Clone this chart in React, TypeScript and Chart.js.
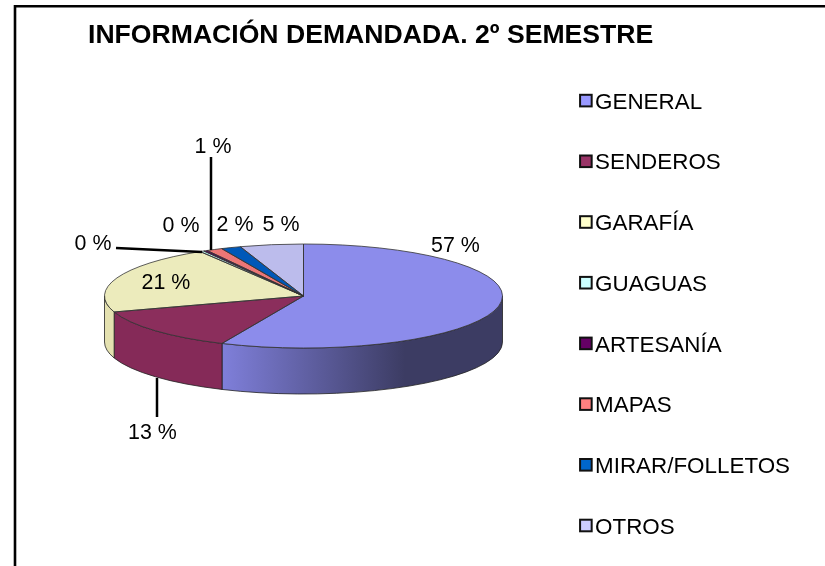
import React, { useEffect, useRef } from "react";
import { Chart, registerables } from "chart.js";

Chart.register(...registerables);

const categories = ["GENERAL", "SENDEROS", "GARAFÍA", "GUAGUAS", "ARTESANÍA", "MAPAS", "MIRAR/FOLLETOS", "OTROS"];
const shares = [56.65, 13.3, 21.25, 0.35, 0.3, 1.3, 1.6, 5.14];
const shareLabels = ["57 %", "13 %", "21 %", "0 %", "0 %", "1 %", "2 %", "5 %"];
const topColors = ["#8c8ceb", "#8b2e5c", "#ecebbc", "#bcecec", "#5e005e", "#ec7676", "#0058b8", "#bcbcec"];
const legendColors = ["#9999ff", "#993366", "#ffffcc", "#ccffff", "#660066", "#ff8080", "#0066cc", "#ccccff"];
const wallColors = ["#3c3c63", "#852a58", "#e4e1b0", "#b0dede", "#520052", "#d06060", "#004a9c", "#a0a0d0"];

const PIE = { cx: 303.5, cy: 296, rx: 199, ry: 52, depth: 46 };
const FONT = "'Liberation Sans', Arial, sans-serif";
const LEGEND_SIZE = 22.4;
const labelSpots: [number, number][] = [
  [455.5, 246], [152.5, 433], [166, 283.5], [93, 244], [181, 226.5], [213, 147.5], [235, 225], [281, 225],
];
const leaders: [number, number, number, number][] = [
  [157, 378, 157, 417],
  [116, 248, 202, 252],
  [211, 157, 211, 250],
];

const pie3d = {
  id: "pie3d",
  beforeDraw(chart: any) {
    const { ctx, width } = chart;
    ctx.save();
    ctx.fillStyle = "#ffffff";
    ctx.fillRect(0, 0, width, chart.height);
    ctx.strokeStyle = "#000";
    ctx.lineWidth = 2.6;
    ctx.beginPath();
    ctx.moveTo(15, 566);
    ctx.lineTo(15, 6.3);
    ctx.lineTo(825, 6.3);
    ctx.stroke();
    ctx.restore();
  },
  beforeDatasetsDraw(chart: any) {
    const { ctx } = chart;
    const arcs = chart.getDatasetMeta(0).data;
    const { cx, cy, rx, ry, depth } = PIE;
    ctx.save();
    arcs.forEach((arc: any, i: number) => {
      const start = Math.max(arc.startAngle, 0);
      const end = Math.min(arc.endAngle, Math.PI);
      if (end <= start) return;
      ctx.beginPath();
      ctx.ellipse(cx, cy, rx, ry, 0, start, end);
      ctx.ellipse(cx, cy + depth, rx, ry, 0, end, start, true);
      ctx.closePath();
      if (i === 0) {
        const g = ctx.createLinearGradient(222, 0, 405, 0);
        g.addColorStop(0, "#7f7fda");
        g.addColorStop(1, wallColors[0]);
        ctx.fillStyle = g;
      } else {
        ctx.fillStyle = wallColors[i];
      }
      ctx.fill();
      ctx.lineWidth = 0.8;
      ctx.strokeStyle = "#222";
      ctx.stroke();
    });
    ctx.restore();
    const first = arcs[0];
    ctx.save();
    ctx.translate(cx, cy);
    ctx.scale(rx / first.outerRadius, ry / first.outerRadius);
    ctx.translate(-first.x, -first.y);
  },
  afterDatasetsDraw(chart: any) {
    const { ctx } = chart;
    ctx.restore();
    const arcs = chart.getDatasetMeta(0).data;
    const { cx, cy, rx, ry } = PIE;
    ctx.save();
    ctx.lineWidth = 0.8;
    ctx.strokeStyle = "#333";
    arcs.forEach((arc: any) => {
      ctx.beginPath();
      ctx.moveTo(cx, cy);
      ctx.ellipse(cx, cy, rx, ry, 0, arc.startAngle, arc.endAngle);
      ctx.closePath();
      ctx.stroke();
    });
    ctx.strokeStyle = "#000";
    ctx.lineWidth = 2.5;
    leaders.forEach(([x0, y0, x1, y1]) => {
      ctx.beginPath();
      ctx.moveTo(x0, y0);
      ctx.lineTo(x1, y1);
      ctx.stroke();
    });
    ctx.fillStyle = "#000";
    ctx.font = `21.4px ${FONT}`;
    ctx.textAlign = "center";
    ctx.textBaseline = "middle";
    shareLabels.forEach((t, i) => ctx.fillText(t, labelSpots[i][0], labelSpots[i][1]));
    ctx.restore();
  },
  afterDraw(chart: any) {
    const { ctx } = chart;
    ctx.save();
    chart.legend.legendHitBoxes.forEach((hit: any, i: number) => {
      const textX = hit.left + 1 + LEGEND_SIZE / 2;
      const midY = hit.top + hit.height / 2 - 2;
      ctx.fillStyle = legendColors[i];
      ctx.strokeStyle = "#111";
      ctx.lineWidth = 2;
      ctx.fillRect(textX - 15, midY - 5.8, 11.6, 11.6);
      ctx.strokeRect(textX - 15, midY - 5.8, 11.6, 11.6);
    });
    ctx.restore();
  },
};

export default function App() {
  const ref = useRef<HTMLCanvasElement>(null);
  useEffect(() => {
    const chart = new Chart(ref.current!, {
      type: "pie",
      plugins: [pie3d],
      data: {
        labels: categories,
        datasets: [{ data: shares, backgroundColor: topColors, borderWidth: 0 }],
      },
      options: {
        responsive: false,
        animation: false,
        layout: { padding: { left: 88, right: 25, top: 0, bottom: -11 } },
        plugins: {
          tooltip: { enabled: false },
          title: {
            display: true,
            text: "INFORMACIÓN DEMANDADA. 2º SEMESTRE",
            align: "start",
            color: "#000",
            font: { family: FONT, size: 26.6, weight: "bold" },
            padding: { top: 20, bottom: 0 },
          },
          legend: {
            position: "right",
            align: "end",
            labels: {
              color: "#000",
              font: { family: FONT, size: LEGEND_SIZE },
              boxWidth: 1,
              boxHeight: 1,
              padding: 38.3,
              generateLabels: () =>
                categories.map((text, i) => ({
                  text,
                  fillStyle: "rgba(0,0,0,0)",
                  strokeStyle: "rgba(0,0,0,0)",
                  lineWidth: 0,
                  index: i,
                  hidden: false,
                })),
            },
          },
        },
      },
    } as any);
    return () => chart.destroy();
  }, []);
  return (
    <canvas
      ref={ref}
      width={825}
      height={566}
      style={{ position: "fixed", left: 0, top: 0, display: "block" }}
    />
  );
}
